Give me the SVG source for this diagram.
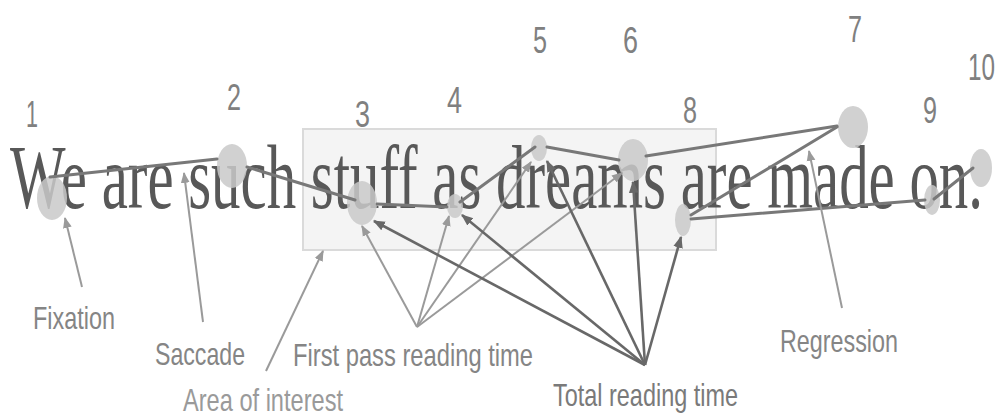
<svg xmlns="http://www.w3.org/2000/svg" width="997" height="416" viewBox="0 0 997 416">
<defs>
<style>
.num{font-family:"Liberation Sans",Arial,sans-serif;font-size:36px;fill:#808080}
.lab{font-family:"Liberation Sans",Arial,sans-serif;font-size:32px;fill:#858585}
.sent{font-family:"Liberation Serif","Times New Roman",serif;font-size:90px;fill:#585858}
.fix{fill:#c9c9c9;opacity:0.85}
.sac{stroke:#787878;stroke-width:3;fill:none;stroke-linecap:round}
.light{stroke:#9a9a9a;stroke-width:2;fill:none}
.dark{stroke:#686868;stroke-width:2.6;fill:none}
</style>
<marker id="aL" viewBox="0 0 10 10" refX="9" refY="5" markerWidth="11" markerHeight="11" markerUnits="userSpaceOnUse" orient="auto"><path d="M0,1 L10,5 L0,9 z" fill="#9a9a9a"/></marker>
<marker id="aD" viewBox="0 0 10 10" refX="9" refY="5" markerWidth="12" markerHeight="12" markerUnits="userSpaceOnUse" orient="auto"><path d="M0,1 L10,5 L0,9 z" fill="#686868"/></marker>
</defs>
<rect width="997" height="416" fill="#ffffff"/>
<g id="area-of-interest"><rect x="303" y="129" width="413" height="121" fill="#f4f4f4" stroke="#dadada" stroke-width="2"/></g>
<g id="sentence"><text class="sent" x="10" y="208" textLength="973" lengthAdjust="spacingAndGlyphs">We are such stuff as dreams are made on.</text></g>
<g id="fixations">
<g id="fix1"><ellipse class="fix" cx="52" cy="198" rx="15" ry="22"/><text class="num" x="26" y="127" textLength="12" lengthAdjust="spacingAndGlyphs">1</text></g>
<g id="fix2"><ellipse class="fix" cx="232" cy="166" rx="15" ry="22"/><text class="num" x="227" y="110" textLength="14" lengthAdjust="spacingAndGlyphs">2</text></g>
<g id="fix3"><ellipse class="fix" cx="362" cy="203" rx="15" ry="22"/><text class="num" x="355" y="127" textLength="15" lengthAdjust="spacingAndGlyphs">3</text></g>
<g id="fix4"><ellipse class="fix" cx="455" cy="206" rx="8" ry="12"/><text class="num" x="447" y="113" textLength="15" lengthAdjust="spacingAndGlyphs">4</text></g>
<g id="fix5"><ellipse class="fix" cx="539" cy="148" rx="8" ry="13"/><text class="num" x="533" y="53" textLength="14" lengthAdjust="spacingAndGlyphs">5</text></g>
<g id="fix6"><ellipse class="fix" cx="633" cy="160" rx="15" ry="21"/><text class="num" x="623" y="53" textLength="15" lengthAdjust="spacingAndGlyphs">6</text></g>
<g id="fix7"><ellipse class="fix" cx="853" cy="127" rx="15" ry="21"/><text class="num" x="848" y="42" textLength="14" lengthAdjust="spacingAndGlyphs">7</text></g>
<g id="fix8"><ellipse class="fix" cx="683" cy="220" rx="8" ry="16"/><text class="num" x="683" y="123" textLength="14" lengthAdjust="spacingAndGlyphs">8</text></g>
<g id="fix9"><ellipse class="fix" cx="932" cy="200" rx="8" ry="15"/><text class="num" x="923" y="123" textLength="14" lengthAdjust="spacingAndGlyphs">9</text></g>
<g id="fix10"><ellipse class="fix" cx="981" cy="168" rx="11" ry="19"/><text class="num" x="968" y="80" textLength="27" lengthAdjust="spacingAndGlyphs">10</text></g>
</g>
<g id="connectors">
<g id="scanpath">
<line class="sac" x1="50" y1="177" x2="217" y2="159"/>
<line class="sac" x1="247" y1="167" x2="355" y2="200"/>
<line class="sac" x1="377" y1="204" x2="447" y2="207"/>
<line class="sac" x1="460" y1="202" x2="535" y2="147"/>
<line class="sac" x1="547" y1="147" x2="619" y2="160"/>
<line class="sac" x1="646" y1="156" x2="837" y2="126"/>
<line class="sac" x1="837" y1="127" x2="691" y2="215"/>
<line class="sac" x1="691" y1="219" x2="925" y2="200"/>
<line class="sac" x1="934" y1="199" x2="973" y2="168"/>
</g>
<g id="annotations">
<line class="light" x1="82" y1="287" x2="65" y2="218" marker-end="url(#aL)"/>
<line class="light" x1="203" y1="322" x2="184" y2="173" marker-end="url(#aL)"/>
<line class="light" x1="266" y1="371" x2="323" y2="251" marker-end="url(#aL)"/>
<line class="light" x1="842" y1="308" x2="809" y2="151" marker-end="url(#aL)"/>
<line class="light" x1="417" y1="327" x2="362" y2="226" marker-end="url(#aL)"/>
<line class="light" x1="417" y1="327" x2="449" y2="216" marker-end="url(#aL)"/>
<line class="light" x1="417" y1="327" x2="531" y2="162" marker-end="url(#aL)"/>
<line class="light" x1="417" y1="327" x2="622" y2="173" marker-end="url(#aL)"/>
<line class="dark" x1="645" y1="365" x2="374" y2="221" marker-end="url(#aD)"/>
<line class="dark" x1="645" y1="365" x2="462" y2="215" marker-end="url(#aD)"/>
<line class="dark" x1="645" y1="365" x2="547" y2="161" marker-end="url(#aD)"/>
<line class="dark" x1="645" y1="365" x2="633" y2="182" marker-end="url(#aD)"/>
<line class="dark" x1="645" y1="365" x2="681" y2="237" marker-end="url(#aD)"/>
</g>
</g>
<g id="labels">
<text class="lab" x="33" y="329" textLength="82" lengthAdjust="spacingAndGlyphs">Fixation</text>
<text class="lab" x="155" y="365" textLength="90" lengthAdjust="spacingAndGlyphs">Saccade</text>
<text class="lab" x="293" y="366" textLength="240" lengthAdjust="spacingAndGlyphs">First pass reading time</text>
<text class="lab" x="183" y="411" textLength="160" lengthAdjust="spacingAndGlyphs" style="fill:#9a9a9a">Area of interest</text>
<text class="lab" x="553" y="406" textLength="185" lengthAdjust="spacingAndGlyphs" style="fill:#7a7a7a">Total reading time</text>
<text class="lab" x="780" y="352" textLength="118" lengthAdjust="spacingAndGlyphs">Regression</text>
</g>
</svg>
